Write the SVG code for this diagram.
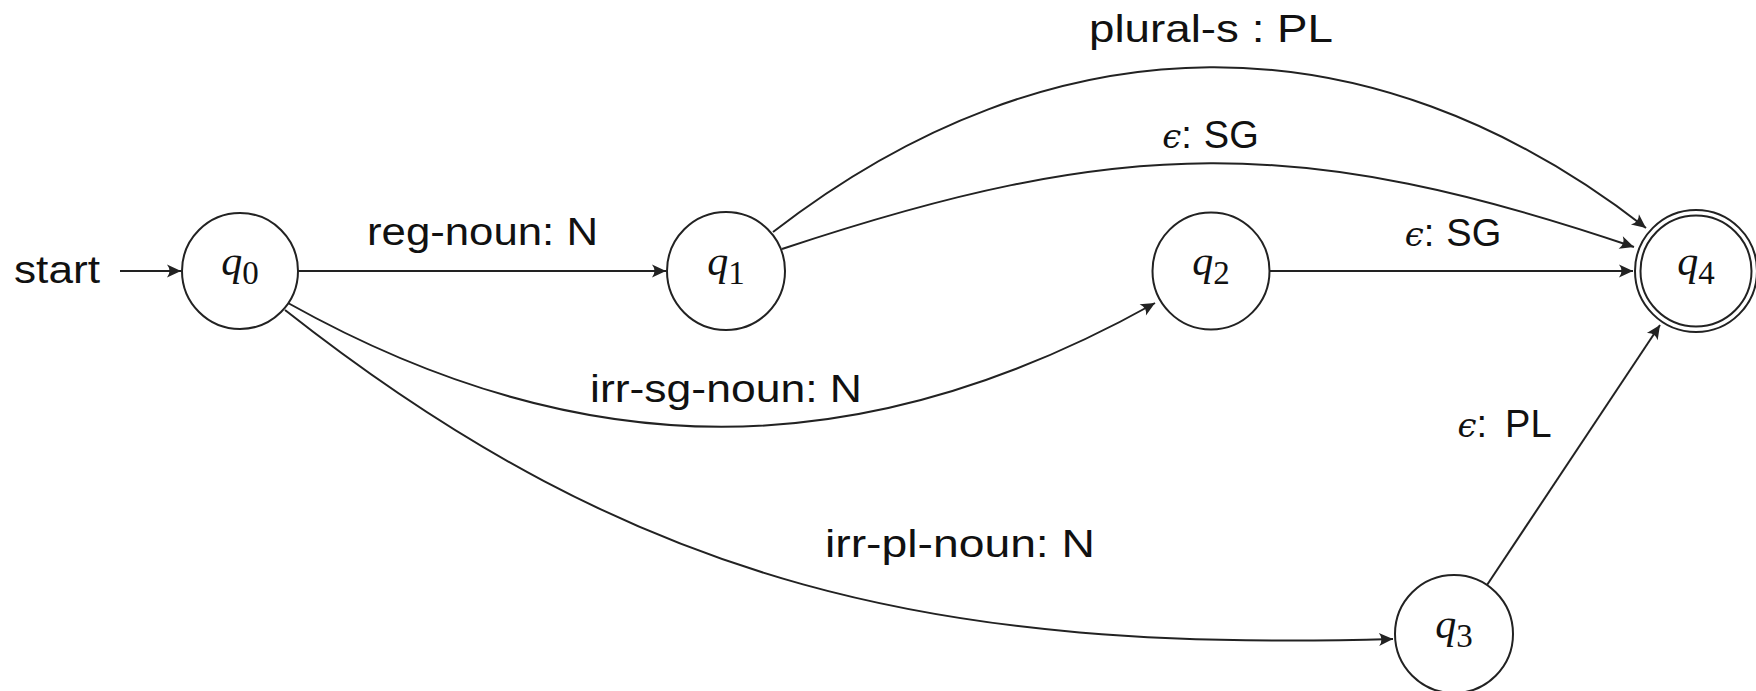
<svg xmlns="http://www.w3.org/2000/svg" width="1756" height="691" viewBox="0 0 1756 691">
<style>
.node{fill:#fff;stroke:#222;stroke-width:2}
.edge{fill:none;stroke:#222;stroke-width:2}
.lbl{font-family:"Liberation Sans","DejaVu Sans",sans-serif;font-size:38px;fill:#111;text-anchor:middle}
.q{font-family:"Liberation Serif","DejaVu Serif",serif;font-style:italic;font-size:42px;fill:#111}
.sub{font-family:"Liberation Serif","DejaVu Serif",serif;font-style:normal;font-size:33px}
.eps{font-family:"DejaVu Serif",serif;font-style:italic;font-size:34px}
</style>
<defs>
<marker id="arr" markerUnits="userSpaceOnUse" markerWidth="20" markerHeight="16" viewBox="-15 -8 17 16" refX="0" refY="0" orient="auto">
<path d="M0,0 L-14,-6.5 Q-9,0 -14,6.5 Z" fill="#222"/>
</marker>
</defs>
<g id="connectors">
<path class="edge" d="M120,271 L181,271" marker-end="url(#arr)"/>
<path class="edge" d="M298,271 L666,271" marker-end="url(#arr)"/>
<path class="edge" d="M773,232 C1053,15 1367,11 1646,228" marker-end="url(#arr)"/>
<path class="edge" d="M782,249 C1121,136 1301,134 1634,247" marker-end="url(#arr)"/>
<path class="edge" d="M1270,271 L1633,271" marker-end="url(#arr)"/>
<path class="edge" d="M288,303 C583,468 860,468 1155,303" marker-end="url(#arr)"/>
<path class="edge" d="M285,310 C640,590 942,652 1393,639" marker-end="url(#arr)"/>
<path class="edge" d="M1487,585 L1660,325" marker-end="url(#arr)"/>
</g>
<g id="labels">
<text class="lbl" x="57" y="283" textLength="86" lengthAdjust="spacingAndGlyphs">start</text>
<text class="lbl" x="482.5" y="245" textLength="231" lengthAdjust="spacingAndGlyphs">reg-noun:  N</text>
<text class="lbl" x="1211" y="42" textLength="244" lengthAdjust="spacingAndGlyphs">plural-s :  PL</text>
<text class="lbl" x="1210.5" y="148"><tspan class="eps">ϵ</tspan>:<tspan dx="12">SG</tspan></text>
<text class="lbl" x="1453" y="246"><tspan class="eps">ϵ</tspan>:<tspan dx="12">SG</tspan></text>
<text class="lbl" x="726" y="402" textLength="272" lengthAdjust="spacingAndGlyphs">irr-sg-noun:  N</text>
<text class="lbl" x="960" y="557" textLength="270" lengthAdjust="spacingAndGlyphs">irr-pl-noun:  N</text>
<text class="lbl" x="1504.5" y="437"><tspan class="eps">ϵ</tspan>:<tspan dx="18">PL</tspan></text>
</g>
<g id="q0">
<circle class="node" cx="240" cy="271" r="58"/>
<text class="q" x="240" y="275" text-anchor="middle">q<tspan class="sub" dy="9">0</tspan></text>
</g>
<g id="q1">
<circle class="node" cx="726" cy="271" r="59"/>
<text class="q" x="726" y="275" text-anchor="middle">q<tspan class="sub" dy="9">1</tspan></text>
</g>
<g id="q2">
<circle class="node" cx="1211" cy="271" r="58.5"/>
<text class="q" x="1211" y="275" text-anchor="middle">q<tspan class="sub" dy="9">2</tspan></text>
</g>
<g id="q3">
<circle class="node" cx="1454" cy="634" r="59"/>
<text class="q" x="1454" y="638" text-anchor="middle">q<tspan class="sub" dy="9">3</tspan></text>
</g>
<g id="q4">
<circle class="node" cx="1696" cy="271" r="61"/>
<circle class="node" cx="1696" cy="271" r="55.5" fill="none"/>
<text class="q" x="1696" y="275" text-anchor="middle">q<tspan class="sub" dy="9">4</tspan></text>
</g>
</svg>
